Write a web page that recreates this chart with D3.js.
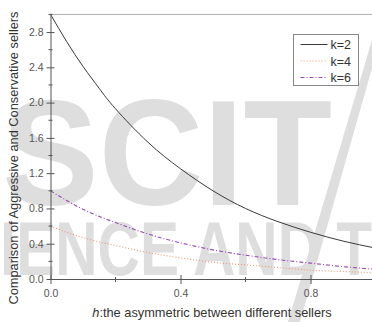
<!DOCTYPE html>
<html>
<head>
<meta charset="utf-8">
<script src="https://cdn.jsdelivr.net/npm/d3@7"></script>
<style>
  html, body { margin: 0; padding: 0; background: #fff; }
  svg { display: block; font-family: "Liberation Sans", Arial, sans-serif; }
</style>
</head>
<body>
<svg id="chart" width="372" height="322"></svg>
<script>
// h values along the x axis
const hValues = [0, 0.05, 0.1, 0.15, 0.2, 0.3, 0.4, 0.5, 0.6, 0.7, 0.8, 0.9, 1.0];
// comparison ratio for each k
const k2 = [3.00, 2.69, 2.41, 2.16, 1.93, 1.55, 1.25, 1.00, 0.80, 0.65, 0.53, 0.43, 0.35];
const k4 = [0.60, 0.53, 0.47, 0.42, 0.38, 0.30, 0.24, 0.19, 0.16, 0.13, 0.10, 0.085, 0.07];
const k6 = [1.00, 0.89, 0.79, 0.71, 0.64, 0.51, 0.41, 0.33, 0.27, 0.22, 0.18, 0.14, 0.11];
const seriesNames = ["k=2", "k=4", "k=6"];
const xMajorTicks = [0.0, 0.4, 0.8];
const xMinorTicks = [0.2, 0.6, 1.0];
const yMajorTicks = [0.0, 0.4, 0.8, 1.2, 1.6, 2.0, 2.4, 2.8];
const yMinorTicks = [0.2, 0.6, 1.0, 1.4, 1.8, 2.2, 2.6, 3.0];

const svg = d3.select("#chart");
const W = 372, H = 322;

// faint publisher watermark behind the plot
const wm = svg.append("g").attr("fill", "#dedede").attr("font-weight", "bold")
  .attr("font-family", "'Liberation Sans', Arial, sans-serif");
wm.append("text").attr("x", 2).attr("y", 205).attr("font-size", 150)
  .attr("textLength", 330).attr("lengthAdjust", "spacingAndGlyphs").text("SCIT");
wm.append("text").attr("x", 0).attr("y", 275).attr("font-size", 76)
  .attr("textLength", 372).attr("lengthAdjust", "spacingAndGlyphs").text("IENCE AND T");
wm.append("path").attr("d", "M372,40 L380,40 L300,322 L288,322 Z");

const x = d3.scaleLinear().domain([0, 1]).range([50.5, 375.5]);
const y = d3.scaleLinear().domain([0, 3]).range([279, 14.4]);

const axisColor = "#555";

// top frame line
svg.append("line").attr("x1", x(0)).attr("x2", W).attr("y1", y(3)).attr("y2", y(3))
  .attr("stroke", "#b0b0b0").attr("stroke-width", 1);

// curves
const line = d3.line().x((d, i) => x(hValues[i])).y(d => y(d)).curve(d3.curveNatural);
const styles = [
  { data: k2, color: "#3a3a3a", dash: null, width: 1 },
  { data: k4, color: "#f4956e", dash: "1,2", width: 1.1 },
  { data: k6, color: "#9a4bb5", dash: "4,2,1,2", width: 1.1 }
];
styles.forEach(s => {
  svg.append("path").datum(s.data).attr("d", line)
    .attr("fill", "none").attr("stroke", s.color).attr("stroke-width", s.width)
    .attr("stroke-dasharray", s.dash);
});

// y axis
const yAxis = d3.axisLeft(y).tickValues(yMajorTicks).tickFormat(d3.format(".1f"))
  .tickSizeInner(4).tickSizeOuter(0).tickPadding(3);
const gy = svg.append("g").attr("transform", `translate(${x(0)},0)`).call(yAxis);
gy.select(".domain").attr("stroke", axisColor);
gy.selectAll(".tick line").attr("stroke", axisColor).attr("x2", 4).attr("x1", -4);
gy.selectAll(".tick text").attr("fill", "#555").attr("font-size", 10.5)
  .attr("font-family", "'Liberation Sans', Arial, sans-serif").attr("x", -7);
gy.append("g").selectAll("line").data(yMinorTicks).join("line")
  .attr("x1", -2).attr("x2", 2).attr("y1", d => y(d)).attr("y2", d => y(d))
  .attr("stroke", axisColor);

// x axis
const xAxis = d3.axisBottom(x).tickValues(xMajorTicks).tickFormat(d3.format(".1f"))
  .tickSizeInner(5).tickSizeOuter(0).tickPadding(6);
const gx = svg.append("g").attr("transform", `translate(0,${y(0)})`).call(xAxis);
gx.select(".domain").attr("stroke", axisColor);
gx.selectAll(".tick line").attr("stroke", axisColor).attr("y1", -4).attr("y2", 5);
gx.selectAll(".tick text").attr("fill", "#555").attr("font-size", 10.5)
  .attr("font-family", "'Liberation Sans', Arial, sans-serif");
gx.append("g").selectAll("line").data(xMinorTicks).join("line")
  .attr("y1", -2).attr("y2", 3).attr("x1", d => x(d)).attr("x2", d => x(d))
  .attr("stroke", axisColor);

// axis titles
svg.append("text")
  .attr("transform", `translate(18,${158}) rotate(-90)`)
  .attr("text-anchor", "middle").attr("font-size", 12.8).attr("fill", "#333")
  .text("Comparison of Aggressive and Conservative sellers");

const xt = svg.append("text").attr("x", 212).attr("y", 317)
  .attr("text-anchor", "middle").attr("font-size", 12.8).attr("fill", "#333");
xt.append("tspan").attr("font-style", "italic").text("h");
xt.append("tspan").text(":the asymmetric between different sellers");

// legend
const lg = svg.append("g").attr("transform", "translate(293.5,34.5)");
lg.append("rect").attr("width", 65).attr("height", 51)
  .attr("fill", "#fff").attr("stroke", "#888").attr("stroke-width", 1);
seriesNames.forEach((name, i) => {
  const yy = 10 + i * 16.5;
  lg.append("line").attr("x1", 7).attr("x2", 34).attr("y1", yy).attr("y2", yy)
    .attr("stroke", styles[i].color).attr("stroke-width", styles[i].width)
    .attr("stroke-dasharray", styles[i].dash);
  lg.append("text").attr("x", 37).attr("y", yy + 4.5).attr("font-size", 12.5)
    .attr("fill", "#333").text(name);
});
</script>
</body>
</html>
